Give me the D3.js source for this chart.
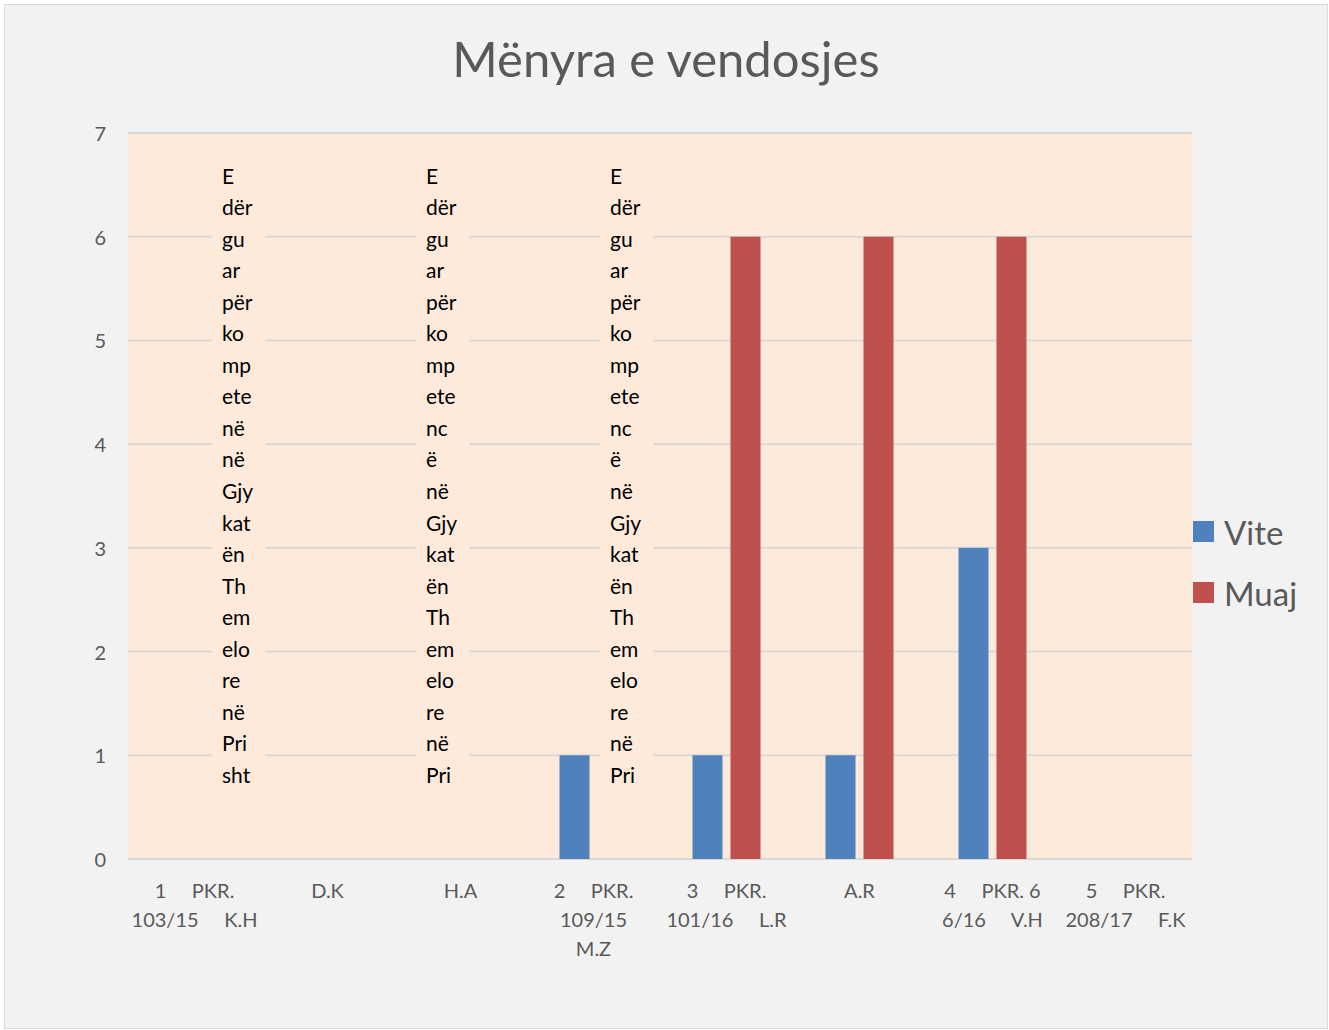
<!DOCTYPE html>
<html>
<head>
<meta charset="utf-8">
<script src="https://cdn.jsdelivr.net/npm/d3@7"></script>
<style>
  body { margin: 0; background: #fff; }
  text { font-family: Lato, "Open Sans", sans-serif; }
</style>
</head>
<body>
<div id="chart"></div>
<script>
// data
categoryLines = [
  ["1     PKR.", "103/15     K.H"],
  ["D.K"],
  ["H.A"],
  ["2     PKR.", "109/15", "M.Z"],
  ["3     PKR.", "101/16     L.R"],
  ["A.R"],
  ["4     PKR. 6", "6/16     V.H"],
  ["5     PKR.", "208/17     F.K"]
]
seriesNames = ["Vite", "Muaj"]
viteValues = [0, 0, 0, 1, 1, 1, 3, 0]
muajValues = [0, 0, 0, 0, 6, 6, 6, 0]
yTicks = [0, 1, 2, 3, 4, 5, 6, 7]

// the long text labels that Excel wrapped into narrow columns
noteCategories = [0, 2, 3]
noteLines = [
  ["E", "dër", "gu", "ar", "për", "ko", "mp", "ete", "në", "në", "Gjy", "kat", "ën", "Th", "em", "elo", "re", "në", "Pri", "sht"],
  ["E", "dër", "gu", "ar", "për", "ko", "mp", "ete", "nc", "ë", "në", "Gjy", "kat", "ën", "Th", "em", "elo", "re", "në", "Pri"],
  ["E", "dër", "gu", "ar", "për", "ko", "mp", "ete", "nc", "ë", "në", "Gjy", "kat", "ën", "Th", "em", "elo", "re", "në", "Pri"]
]
// where each wrapped label sits, relative to its category's left edge
noteOffsets = [94, 32, 83]

const colors = ["#4f81bd", "#c0504d"]
const W = 1329, H = 1030
const plot = { left: 128, right: 1192, top: 133, bottom: 859 }

const svg = d3.select("#chart").append("svg")
  .attr("width", W)
  .attr("height", H)

// chart background + border
svg.append("rect")
  .attr("x", 4.5).attr("y", 4.5)
  .attr("width", W - 6).attr("height", H - 6)
  .attr("fill", "#f2f2f2")
  .attr("stroke", "#d9d9d9")
  .attr("stroke-width", 1)

svg.append("text")
  .attr("x", 666).attr("y", 58)
  .attr("text-anchor", "middle")
  .attr("dominant-baseline", "central")
  .attr("fill", "#595959")
  .style("font-size", "49px")
  .text("Mënyra e vendosjes")

// plot area
svg.append("rect")
  .attr("x", plot.left).attr("y", plot.top)
  .attr("width", plot.right - plot.left).attr("height", plot.bottom - plot.top)
  .attr("fill", "#fdeadb")

const idx = categoryLines.map((d, i) => i)
const x0 = d3.scaleBand()
  .domain(idx)
  .range([plot.left, plot.right])
const x1 = d3.scaleBand()
  .domain(seriesNames)
  .range([0, 68])
  .paddingInner(0.2105)
const y = d3.scaleLinear()
  .domain([0, 7])
  .range([plot.bottom, plot.top])

// gridlines
svg.append("g")
  .selectAll("line")
  .data(yTicks)
  .join("line")
  .attr("x1", plot.left).attr("x2", plot.right)
  .attr("y1", d => y(d)).attr("y2", d => y(d))
  .attr("stroke", "#d9d9d9")
  .attr("stroke-width", 2)

// y tick labels
svg.append("g")
  .selectAll("text")
  .data(yTicks)
  .join("text")
  .attr("x", 106)
  .attr("y", d => y(d))
  .attr("text-anchor", "end")
  .attr("dominant-baseline", "central")
  .attr("fill", "#595959")
  .style("font-size", "20px")
  .text(d => d)

// bars
const groupOffset = (x0.bandwidth() - 68) / 2
const series = [viteValues, muajValues]
series.forEach((vals, s) => {
  svg.append("g")
    .selectAll("rect")
    .data(vals.map((v, i) => ({ i: i, v: v })).filter(d => d.v > 0))
    .join("rect")
    .attr("x", d => x0(d.i) + groupOffset + x1(seriesNames[s]))
    .attr("width", x1.bandwidth())
    .attr("y", d => y(d.v))
    .attr("height", d => y(0) - y(d.v))
    .attr("fill", colors[s])
})

// wrapped text labels with their own fill box (hides the gridlines)
noteCategories.forEach((c, k) => {
  let left = x0(c) + noteOffsets[k]
  let g = svg.append("g")
  g.append("rect")
    .attr("x", left - 10).attr("y", 160)
    .attr("width", 53).attr("height", 632)
    .attr("fill", "#fdeadb")
  g.selectAll("text")
    .data(noteLines[k])
    .join("text")
    .attr("x", left)
    .attr("y", (d, i) => 175 + i * 31.55)
    .attr("dominant-baseline", "central")
    .attr("fill", "#000")
    .style("font-size", "21px")
    .text(d => d)
})

// category labels
categoryLines.forEach((lines, i) => {
  svg.append("g")
    .selectAll("text")
    .data(lines)
    .join("text")
    .attr("x", x0(i) + x0.bandwidth() / 2)
    .attr("y", (d, j) => 890 + j * 29)
    .attr("text-anchor", "middle")
    .attr("dominant-baseline", "central")
    .attr("fill", "#595959")
    .attr("xml:space", "preserve")
    .style("white-space", "pre")
    .style("font-size", "20px")
    .text(d => d)
})

// legend
const legend = svg.append("g")
  .selectAll("g")
  .data(seriesNames)
  .join("g")
  .attr("transform", (d, i) => `translate(1193, ${521 + i * 61})`)
legend.append("rect")
  .attr("width", 21).attr("height", 21)
  .attr("fill", (d, i) => colors[i])
legend.append("text")
  .attr("x", 31).attr("y", 10.5)
  .attr("dominant-baseline", "central")
  .attr("fill", "#595959")
  .style("font-size", "33px")
  .text(d => d)
</script>
</body>
</html>
